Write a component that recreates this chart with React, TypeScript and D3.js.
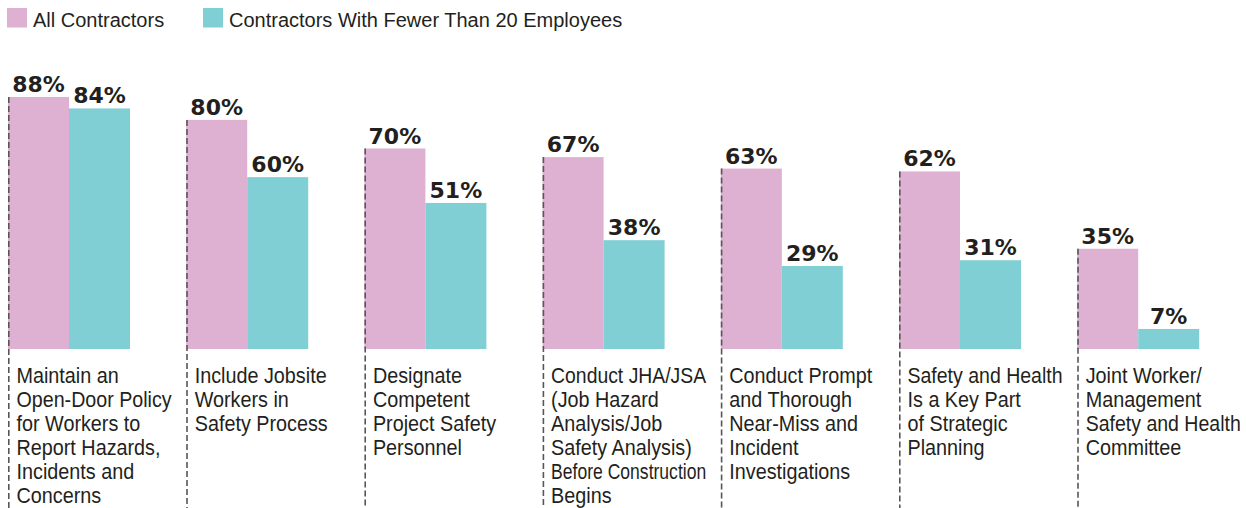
import React, { useEffect, useRef } from "react";
import * as d3 from "d3";

const categories: string[][] = [
  ["Maintain an", "Open-Door Policy", "for Workers to", "Report Hazards,", "Incidents and", "Concerns"],
  ["Include Jobsite", "Workers in", "Safety Process"],
  ["Designate", "Competent", "Project Safety", "Personnel"],
  ["Conduct JHA/JSA", "(Job Hazard", "Analysis/Job", "Safety Analysis)", "Before Construction", "Begins"],
  ["Conduct Prompt", "and Thorough", "Near-Miss and", "Incident", "Investigations"],
  ["Safety and Health", "Is a Key Part", "of Strategic", "Planning"],
  ["Joint Worker/", "Management", "Safety and Health", "Committee"],
];
const seriesNames = ["All Contractors", "Contractors With Fewer Than 20 Employees"];
const allContractors = [88, 80, 70, 67, 63, 62, 35];
const smallContractors = [84, 60, 51, 38, 29, 31, 7];
const colors = ["#deb0d2", "#80cfd4"];

const W = 1246;
const H = 508;
const FONT = "'Liberation Sans', Arial, sans-serif";

export default function App() {
  const ref = useRef<SVGSVGElement>(null);
  const ids = categories.map((_, i) => String(i));
  const x0 = d3.scaleBand<string>().domain(ids).range([8, 8 + 7 * 178.2]).padding(0).align(0);
  const x1 = d3.scaleBand<string>().domain(["a", "b"]).range([0, 122]).padding(0);
  const y = d3.scaleLinear().domain([0, 100]).range([349, 62.6]);
  const data = [allContractors, smallContractors];
  const keys = ["a", "b"];

  useEffect(() => {
    if (!ref.current) return;
    d3.select(ref.current)
      .selectAll<SVGTextElement, unknown>("text.cat")
      .each(function () {
        const len = this.getComputedTextLength();
        const sx = Math.min(0.9, 155 / len);
        const tx = this.getAttribute("data-x");
        const ty = this.getAttribute("data-y");
        this.setAttribute("transform", `translate(${tx},${ty}) scale(${sx},1)`);
      });
  }, []);

  return (
    <svg ref={ref} width={W} height={H} style={{ display: "block", position: "absolute", left: 0, top: 0 }}>
      <style>{`body{margin:0}`}</style>
      <rect width={W} height={H} fill="#fff" />
      <g>
        <rect x={7} y={8} width={20} height={19.5} fill={colors[0]} />
        <text x={33} y={26.7} fontFamily={FONT} fontSize={20} fill="#231f20">
          {seriesNames[0]}
        </text>
        <rect x={203} y={8} width={20} height={19.5} fill={colors[1]} />
        <text x={229} y={26.7} fontFamily={FONT} fontSize={20} fill="#231f20">
          {seriesNames[1]}
        </text>
      </g>
      {ids.map((id, i) => {
        const gx = x0(id)!;
        return (
          <g key={id}>
            {keys.map((k, s) => {
              const v = data[s][i];
              const bx = gx + x1(k)!;
              return (
                <g key={k}>
                  <rect x={bx} y={y(v)} width={x1.bandwidth()} height={y(0) - y(v)} fill={colors[s]} />
                  <text
                    x={bx + x1.bandwidth() / 2}
                    y={y(v) - 5}
                    textAnchor="middle"
                    fontFamily="'DejaVu Sans', sans-serif"
                    fontWeight="bold"
                    fontSize={22}
                    fill="#231f20"
                  >
                    {v}%
                  </text>
                </g>
              );
            })}
            <line
              x1={gx + 0.8}
              x2={gx + 0.8}
              y1={y(allContractors[i])}
              y2={H}
              stroke="#5a5558"
              strokeWidth={1.6}
              strokeDasharray="6 3"
            />
            {categories[i].map((line, j) => (
              <text
                key={j}
                className="cat"
                data-x={gx + 8.5}
                data-y={383.3 + j * 24}
                transform={`translate(${gx + 8.5},${383.3 + j * 24}) scale(0.9,1)`}
                fontFamily={FONT}
                fontSize={22}
                fill="#231f20"
              >
                {line}
              </text>
            ))}
          </g>
        );
      })}
    </svg>
  );
}
